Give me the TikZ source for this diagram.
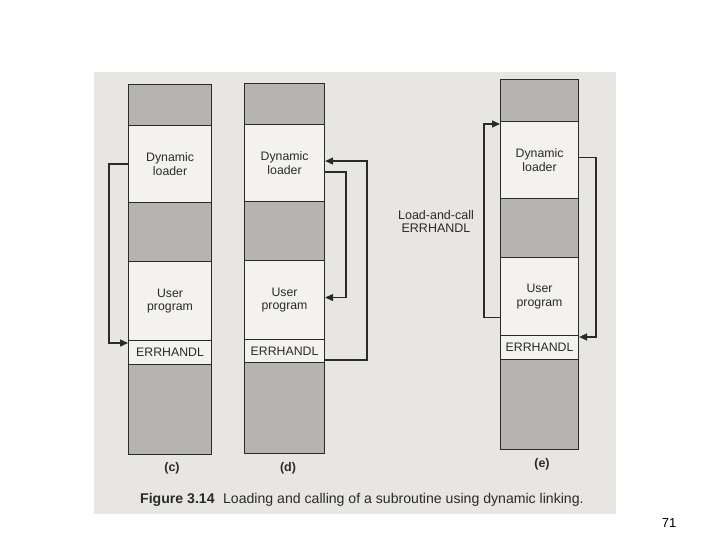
\documentclass[tikz,border=0pt]{standalone}
\usepackage{fontspec}
\setmainfont{Liberation Sans}
\usetikzlibrary{arrows.meta}
\definecolor{scanbg}{HTML}{E8E6E2}
\definecolor{shade}{HTML}{B5B4B2}
\definecolor{paper}{HTML}{F3F2EF}
\definecolor{ink}{HTML}{2A2A2A}
\begin{document}
\begin{tikzpicture}[x=1pt,y=-1pt,
  seg/.style={draw=ink, line width=1.1pt, inner sep=0pt, anchor=north west, align=center,
    font=\fontsize{12.3}{13.5}\selectfont, text=ink},
  sh/.style={seg, fill=shade},
  wh/.style={seg, fill=paper},
  arr/.style={draw=ink, line width=1.3pt, -{Triangle[length=8pt,width=7pt]}},
  lab/.style={font=\bfseries\fontsize{12.5}{14}\selectfont, text=ink}]
\useasboundingbox (0,0) rectangle (720,540);
\fill[white] (0,0) rectangle (720,540);
\fill[scanbg] (94,72) rectangle (616,514);
% column (c)
\node[sh, minimum width=83pt, minimum height=41pt] (c1) at (128,84) {};
\node[wh, minimum width=83pt, minimum height=77pt] (cdyn) at (128,125) {Dynamic\\loader};
\node[sh, minimum width=83pt, minimum height=59pt] (c3) at (128,202) {};
\node[wh, minimum width=83pt, minimum height=79pt] (cuser) at (128,261) {User\\program};
\node[wh, minimum width=83pt, minimum height=24pt] (cerr) at (128,340) {ERRHANDL};
\node[sh, minimum width=83pt, minimum height=90pt] (c6) at (128,364) {};
% column (d)
\node[sh, minimum width=80pt, minimum height=41pt] (d1) at (244,83) {};
\node[wh, minimum width=80pt, minimum height=77pt] (ddyn) at (244,124) {Dynamic\\loader};
\node[sh, minimum width=80pt, minimum height=59pt] (d3) at (244,201) {};
\node[wh, minimum width=80pt, minimum height=79pt] (duser) at (244,260) {User\\program};
\node[wh, minimum width=80pt, minimum height=23pt] (derr) at (244,339) {ERRHANDL};
\node[sh, minimum width=80pt, minimum height=91pt] (d6) at (244,362) {};
% column (e)
\node[sh, minimum width=78pt, minimum height=42pt] (e1) at (500,79) {};
\node[wh, minimum width=78pt, minimum height=77pt] (edyn) at (500,121) {Dynamic\\loader};
\node[sh, minimum width=78pt, minimum height=59pt] (e3) at (500,198) {};
\node[wh, minimum width=78pt, minimum height=78pt] (euser) at (500,257) {User\\program};
\node[wh, minimum width=78pt, minimum height=24pt] (eerr) at (500,335) {ERRHANDL};
\node[sh, minimum width=78pt, minimum height=90pt] (e6) at (500,359) {};
% connectors
\draw[arr] (cdyn.west) -- ++(-19,0) |- ([yshift=-3pt]cerr.north west);
\draw[arr] ([yshift=-9pt]derr.east) -- ++(42,0) |- ([yshift=2pt]ddyn.east);
\draw[arr] ([yshift=-9pt]ddyn.east) -- ++(21,0) |- ([yshift=2.5pt]duser.east);
\draw[arr] ([yshift=-21pt]euser.west) -- ++(-16,0) |- ([yshift=-3pt]edyn.north west);
\draw[arr] ([yshift=2.5pt]edyn.east) -- ++(17,0) |- ([yshift=-2pt]eerr.north east);
% labels
\node[lab] (lc) at (172,468) {(c)};
\node[lab] (ld) at (288,468) {(d)};
\node[lab] (le) at (542,464) {(e)};
\node[align=center, text=ink, font=\fontsize{12.5}{13}\selectfont] (lcall) at (436,221) {Load-and-call\\ERRHANDL};
\node[anchor=west, inner sep=0pt, text=ink, font=\fontsize{14.1}{16}\selectfont] (cap) at (140,500)
  {\textbf{Figure 3.14}\hspace{0.6em}Loading and calling of a subroutine using dynamic linking.};
\node[font=\fontsize{13}{14}\selectfont] (pg) at (669,523) {71};
\end{tikzpicture}
\end{document}
